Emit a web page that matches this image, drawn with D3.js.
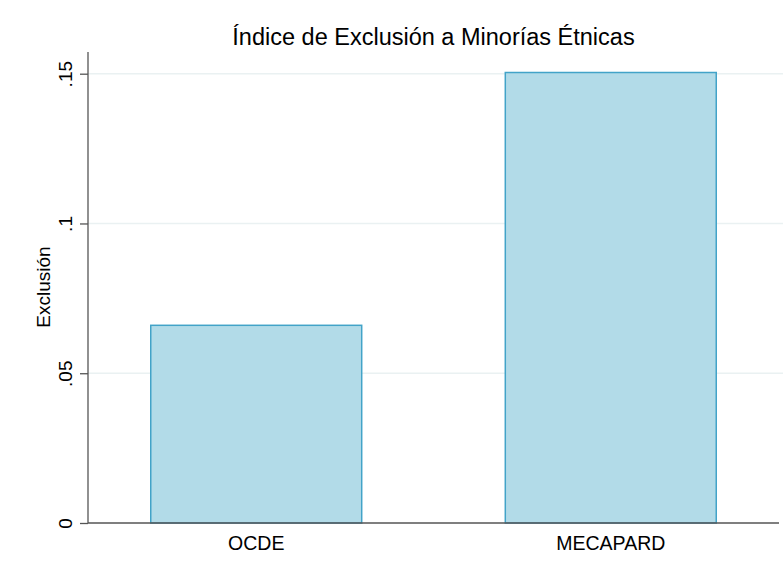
<!DOCTYPE html>
<html><head><meta charset="utf-8">
<script src="https://cdn.jsdelivr.net/npm/d3@7"></script>
<style>body{margin:0;background:#fff}svg{display:block}text{font-family:"Liberation Sans",Arial,sans-serif;fill:#000}</style>
</head><body>
<svg id="chart" width="783" height="568"></svg>
<script>
const categories = ["OCDE", "MECAPARD"];
const values = [0.066, 0.1504];
const yTicks = [0, 0.05, 0.1, 0.15];
const yTickLabels = ["0", ".05", ".1", ".15"];
const title = "Índice de Exclusión a Minorías Étnicas";
const yTitle = "Exclusión";

const svg = d3.select("#chart");
const m = {left: 88, right: 4, top: 52, bottom: 45};
const W = 783, H = 568;
const x = d3.scaleBand().domain(categories).range([m.left, W - m.right]).paddingInner(0.405).paddingOuter(0.177);
const y = d3.scaleLinear().domain([0, 0.15]).range([H - m.bottom, 73.7]);

// gridlines
svg.append("g").selectAll("line").data(yTicks.slice(1)).join("line")
  .attr("x1", m.left).attr("x2", W).attr("y1", d => y(d)).attr("y2", d => y(d))
  .attr("stroke", "#eaf1f2").attr("stroke-width", 1.5);

// bars
svg.append("g").selectAll("rect").data(values).join("rect")
  .attr("x", (d, i) => x(categories[i]))
  .attr("width", x.bandwidth())
  .attr("y", d => y(d))
  .attr("height", d => y(0) - y(d))
  .attr("fill", "#b2dbe8")
  .attr("stroke", "#42a3c8").attr("stroke-width", 1.5);

// y axis
const ya = svg.append("g").attr("transform", `translate(${m.left},0)`)
  .call(d3.axisLeft(y).tickValues(yTicks).tickFormat((d, i) => yTickLabels[i]).tickSize(8).tickPadding(4));
ya.select(".domain").attr("d", `M0,${y(0)}V${m.top}`).attr("stroke", "#555").attr("stroke-width", 1.3);
ya.selectAll(".tick line").attr("stroke", "#555").attr("stroke-width", 1.3);
ya.selectAll(".tick text").attr("font-size", 19).attr("text-anchor", "middle")
  .attr("x", null).attr("dy", null)
  .attr("transform", "translate(-16,0) rotate(-90)").attr("y", 0)
  .style("font-family", '"Liberation Sans",Arial,sans-serif').attr("fill", "#000");

// x axis
const xa = svg.append("g").attr("transform", `translate(0,${y(0)})`)
  .call(d3.axisBottom(x).tickSize(0).tickPadding(13));
xa.select(".domain").attr("d", `M${m.left},0H${W - m.right}`).attr("stroke", "#555").attr("stroke-width", 1.3);
xa.selectAll(".tick text").attr("font-size", 19.5).attr("dy", "0.71em")
  .style("font-family", '"Liberation Sans",Arial,sans-serif').attr("fill", "#000");

// titles
svg.append("text").attr("x", (m.left + W - m.right) / 2).attr("y", 44.5)
  .attr("text-anchor", "middle").attr("font-size", 23.5).text(title);
svg.append("text").attr("transform", `translate(50,${(y(0) + m.top) / 2 - 0.5}) rotate(-90)`)
  .attr("text-anchor", "middle").attr("font-size", 19).text(yTitle);
</script>
</body></html>
